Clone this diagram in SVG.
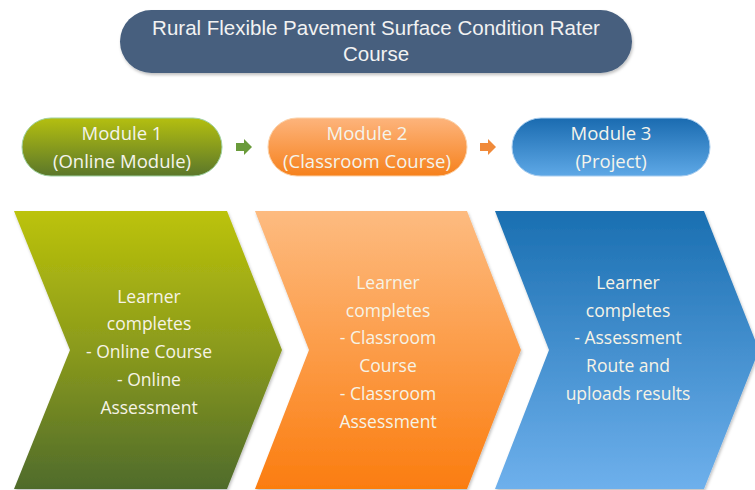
<svg xmlns="http://www.w3.org/2000/svg" width="755" height="490" viewBox="0 0 755 490">
<defs>
<linearGradient id="gGreen" x1="0" y1="0" x2="0" y2="1">
<stop offset="0" stop-color="#bcc30a"/><stop offset="0.5" stop-color="#8a9a1c"/><stop offset="1" stop-color="#4f6b2c"/>
</linearGradient>
<linearGradient id="gOrange" x1="0" y1="0" x2="0" y2="1">
<stop offset="0" stop-color="#fdbb80"/><stop offset="1" stop-color="#fb7d10"/>
</linearGradient>
<linearGradient id="gBlue" x1="0" y1="0" x2="0" y2="1">
<stop offset="0" stop-color="#1a6fb1"/><stop offset="1" stop-color="#6eb0ec"/>
</linearGradient>
<linearGradient id="pGreen" x1="0" y1="0" x2="0" y2="1">
<stop offset="0" stop-color="#b4bf10"/><stop offset="1" stop-color="#5b772a"/>
</linearGradient>
<linearGradient id="pOrange" x1="0" y1="0" x2="0" y2="1">
<stop offset="0" stop-color="#fdb47c"/><stop offset="1" stop-color="#f6811c"/>
</linearGradient>
<linearGradient id="pBlue" x1="0" y1="0" x2="0" y2="1">
<stop offset="0" stop-color="#1a6bb0"/><stop offset="1" stop-color="#5ea8e6"/>
</linearGradient>
<filter id="sh" x="-10%" y="-10%" width="120%" height="130%">
<feDropShadow dx="1" dy="2" stdDeviation="1.5" flood-color="#000" flood-opacity="0.25"/>
</filter>
</defs>
<style>
.t{font-family:"Liberation Sans",Arial,sans-serif;font-size:20.5px;fill:#f2f2f2;text-anchor:middle}
.m{font-family:"Open Sans","Noto Sans",sans-serif;font-size:18.5px;fill:#f4f4ec;text-anchor:middle}
.c{font-family:"Open Sans","Noto Sans",sans-serif;font-size:17.5px;fill:#f6f3e6;text-anchor:middle}
</style>
<rect width="755" height="490" fill="#ffffff"/>
<g id="title">
<rect x="120" y="10" width="512" height="63" rx="31.5" fill="#465f7e" filter="url(#sh)"/>
<text class="t" x="376" y="35">Rural Flexible Pavement Surface Condition Rater</text>
<text class="t" x="376" y="61">Course</text>
</g>
<g id="module1">
<rect x="22" y="118" width="200" height="58" rx="29" fill="url(#pGreen)" stroke="#9fd1a0" stroke-width="1"/>
<text class="m" x="122" y="140">Module 1</text>
<text class="m" x="122" y="168">(Online Module)</text>
</g>
<g id="module2">
<rect x="268" y="118" width="199" height="58" rx="29" fill="url(#pOrange)" stroke="#fbd1a8" stroke-width="1"/>
<text class="m" x="367" y="140">Module 2</text>
<text class="m" x="367" y="168">(Classroom Course)</text>
</g>
<g id="module3">
<rect x="512" y="118" width="198" height="58" rx="29" fill="url(#pBlue)" stroke="#a8cdef" stroke-width="1"/>
<text class="m" x="611" y="140">Module 3</text>
<text class="m" x="611" y="168">(Project)</text>
</g>
<g id="connectors">
<polygon points="236,143 244,143 244,139 252,147 244,155 244,151 236,151" fill="#6a9b3a"/>
<polygon points="480,143 488,143 488,139 496,147 488,155 488,151 480,151" fill="#f08a3a"/>
</g>
<g id="step1">
<polygon points="14,211 227,211 282,350 227,489 14,489 70,350" fill="url(#gGreen)" filter="url(#sh)"/>
<text class="c" x="149" y="303">Learner</text>
<text class="c" x="149" y="330">completes</text>
<text class="c" x="149" y="358">- Online Course</text>
<text class="c" x="149" y="386">- Online</text>
<text class="c" x="149" y="414">Assessment</text>
</g>
<g id="step2">
<polygon points="255,211 467,211 521,350 467,489 255,489 309,350" fill="url(#gOrange)" filter="url(#sh)"/>
<text class="c" x="388" y="289">Learner</text>
<text class="c" x="388" y="317">completes</text>
<text class="c" x="388" y="344">- Classroom</text>
<text class="c" x="388" y="372">Course</text>
<text class="c" x="388" y="400">- Classroom</text>
<text class="c" x="388" y="428">Assessment</text>
</g>
<g id="step3">
<polygon points="495,211 704,211 759,350 704,489 495,489 549,350" fill="url(#gBlue)" filter="url(#sh)"/>
<text class="c" x="628" y="289">Learner</text>
<text class="c" x="628" y="317">completes</text>
<text class="c" x="628" y="344">- Assessment</text>
<text class="c" x="628" y="372">Route and</text>
<text class="c" x="628" y="400">uploads results</text>
</g>
</svg>
